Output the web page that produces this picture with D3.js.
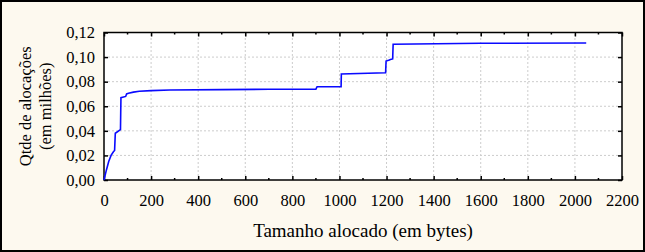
<!DOCTYPE html>
<html>
<head>
<meta charset="utf-8">
<script src="https://cdn.jsdelivr.net/npm/d3@7"></script>
<style>
  body { margin: 0; background: #fff; }
</style>
</head>
<body>
<svg id="chart" width="645" height="252" style="font-family: 'Liberation Serif', 'DejaVu Serif', serif;"></svg>
<script>
// tamanho alocado (bytes) x qtde de alocações (milhões)
let sizes = [0, 10, 20, 30, 40, 45, 48, 70, 71, 72, 92, 96, 104, 125, 150, 200, 280, 500, 700, 900, 905, 1007, 1008, 1196, 1198, 1212, 1216, 1226, 1228, 1600, 2048]
let counts = [0, 0.008, 0.015, 0.020, 0.023, 0.024, 0.038, 0.041, 0.055, 0.067, 0.068, 0.070, 0.0705, 0.0715, 0.0722, 0.0727, 0.0732, 0.0735, 0.0738, 0.0739, 0.0759, 0.0760, 0.0862, 0.0873, 0.0968, 0.0976, 0.0980, 0.0985, 0.1105, 0.1112, 0.1115]
let xTicks = [0, 200, 400, 600, 800, 1000, 1200, 1400, 1600, 1800, 2000, 2200]
let yTicks = [0, 0.02, 0.04, 0.06, 0.08, 0.10, 0.12]

let data = sizes.map((s, i) => ({x: s, y: counts[i]}))

let width = 645
let height = 252
let margin = {top: 32.5, right: 23, bottom: 72, left: 104}
let serif = "'Liberation Serif', 'DejaVu Serif', serif"

const svg = d3.select("#chart")

// fundo e moldura externa
svg.append("rect")
  .attr("x", 1).attr("y", 1)
  .attr("width", width - 2).attr("height", height - 2)
  .attr("fill", "#fdf9ef")
  .attr("stroke", "#000")
  .attr("stroke-width", 2)

let x = d3.scaleLinear()
  .domain([0, 2200])
  .range([margin.left, width - margin.right])
let y = d3.scaleLinear()
  .domain([0, 0.12])
  .range([height - margin.bottom, margin.top])

let fmt = d3.format(".2f")
let comma = d => fmt(d).replace(".", ",")

// area do grafico
svg.append("rect")
  .attr("x", x(0)).attr("y", y(0.12))
  .attr("width", x(2200) - x(0)).attr("height", y(0) - y(0.12))
  .attr("fill", "#fff")

// grade pontilhada
svg.append("g")
  .selectAll("line")
  .data(xTicks.slice(1, -1))
  .join("line")
    .attr("x1", d => x(d)).attr("x2", d => x(d))
    .attr("y1", y(0)).attr("y2", y(0.12))
    .attr("stroke", "#ccc")
    .attr("stroke-dasharray", "2,2")
svg.append("g")
  .selectAll("line")
  .data(yTicks.slice(1, -1))
  .join("line")
    .attr("y1", d => y(d)).attr("y2", d => y(d))
    .attr("x1", x(0)).attr("x2", x(2200))
    .attr("stroke", "#ccc")
    .attr("stroke-dasharray", "2,2")

// eixos com marcas para dentro
let xMinor = d3.range(100, 2200, 200)
let axisB = d3.axisBottom(x).tickValues(xTicks).tickSize(-4).tickPadding(14).tickFormat(d3.format("d"))
let axisT = d3.axisTop(x).tickValues(xTicks).tickSize(-4).tickFormat("")
let axisL = d3.axisLeft(y).tickValues(yTicks).tickSize(-4).tickPadding(9).tickFormat(comma)
let axisR = d3.axisRight(y).tickValues(yTicks).tickSize(-4).tickFormat("")

let styleAxis = g => {
  g.attr("font-family", serif)
  g.select(".domain").remove()
  g.selectAll(".tick line").attr("stroke", "#000").attr("stroke-width", 1.5)
  g.selectAll(".tick text")
    .attr("font-size", 16.5)
    .attr("fill", "#000")
}

svg.append("g")
  .attr("transform", `translate(0,${y(0)})`)
  .call(axisB).call(styleAxis)
svg.append("g")
  .attr("transform", `translate(0,${y(0.12)})`)
  .call(axisT).call(styleAxis)
svg.append("g")
  .attr("transform", `translate(${x(0)},0)`)
  .call(axisL).call(styleAxis)
svg.append("g")
  .attr("transform", `translate(${x(2200)},0)`)
  .call(axisR).call(styleAxis)

// marcas menores do eixo x
svg.append("g")
  .selectAll("line")
  .data(xMinor.flatMap(d => [[d, y(0), -2], [d, y(0.12), 2]]))
  .join("line")
    .attr("x1", d => x(d[0])).attr("x2", d => x(d[0]))
    .attr("y1", d => d[1]).attr("y2", d => d[1] + d[2])
    .attr("stroke", "#000")
    .attr("stroke-width", 1.5)

// moldura do grafico
svg.append("rect")
  .attr("x", x(0)).attr("y", y(0.12))
  .attr("width", x(2200) - x(0)).attr("height", y(0) - y(0.12))
  .attr("fill", "none")
  .attr("stroke", "#000")
  .attr("stroke-width", 1.5)

// linha
let line = d3.line()
  .x(d => x(d.x))
  .y(d => y(d.y))

svg.append("path")
  .datum(data)
  .attr("fill", "none")
  .attr("stroke", "#0a0aff")
  .attr("stroke-width", 1.6)
  .attr("d", line)

// titulos
svg.append("text")
  .attr("x", (x(0) + x(2200)) / 2)
  .attr("y", 237)
  .attr("text-anchor", "middle")
  .attr("font-family", serif)
  .attr("font-size", 19)
  .attr("fill", "#000")
  .text("Tamanho alocado (em bytes)")

let yt = svg.append("text")
  .attr("transform", `translate(31,${(y(0) + y(0.12)) / 2}) rotate(-90)`)
  .attr("text-anchor", "middle")
  .attr("font-family", serif)
  .attr("font-size", 16.5)
  .attr("fill", "#000")
yt.append("tspan").attr("x", 0).attr("dy", 0).text("Qtde de alocações")
yt.append("tspan").attr("x", 0).attr("dy", 20).text("(em milhões)")
</script>
</body>
</html>
